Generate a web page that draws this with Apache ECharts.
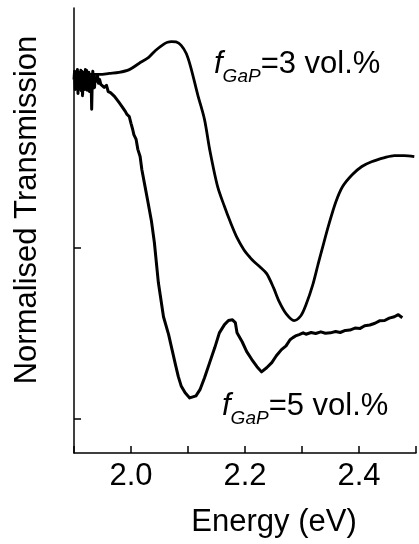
<!DOCTYPE html>
<html>
<head>
<meta charset="utf-8">
<script src="https://cdn.jsdelivr.net/npm/echarts@6/dist/echarts.min.js"></script>
<style>
  html, body { margin: 0; padding: 0; background: #fff; }
  #chart { width: 419px; height: 544px; }
</style>
</head>
<body>
<div id="chart"></div>
<script>
// f_GaP = 3 vol.%
var energy3 = [1.902, 1.919, 1.945, 1.962, 1.979, 1.997, 2.014, 2.031, 2.043, 2.057, 2.064, 2.071, 2.079, 2.088, 2.097,
    2.105, 2.117, 2.129, 2.138, 2.152, 2.164, 2.174, 2.186, 2.198, 2.209, 2.216, 2.226, 2.238, 2.250, 2.260,
    2.272, 2.286, 2.298, 2.307, 2.319, 2.328, 2.336, 2.347, 2.359, 2.371, 2.388, 2.405, 2.422, 2.445, 2.462,
    2.479, 2.497];
var trans3 = [1.003, 1.006, 1.006, 1.009, 1.012, 1.020, 1.038, 1.056, 1.076, 1.094, 1.100, 1.102, 1.101, 1.091, 1.067,
    1.026, 0.947, 0.874, 0.787, 0.678, 0.620, 0.576, 0.529, 0.494, 0.471, 0.459, 0.444, 0.424, 0.383, 0.342,
    0.307, 0.287, 0.301, 0.333, 0.392, 0.450, 0.500, 0.567, 0.632, 0.678, 0.713, 0.737, 0.751, 0.763, 0.769,
    0.769, 0.766];

// f_GaP = 5 vol.%
var energy5 = [1.900, 1.901, 1.902, 1.903, 1.904, 1.905, 1.906, 1.907, 1.908, 1.909, 1.910, 1.911, 1.912, 1.913,
    1.914, 1.915, 1.916, 1.917, 1.918, 1.919, 1.920, 1.921, 1.922, 1.923, 1.924, 1.925, 1.926, 1.927, 1.928,
    1.929, 1.930, 1.931, 1.932, 1.933, 1.934, 1.935, 1.936, 1.937, 1.938, 1.940, 1.941, 1.943, 1.945, 1.947,
    1.950, 1.953, 1.957, 1.960, 1.964, 1.967, 1.971, 1.974, 1.979, 1.983, 1.986, 1.990, 1.993, 1.997, 2.000,
    2.003, 2.005, 2.009, 2.012, 2.016, 2.019, 2.024, 2.029, 2.036, 2.041, 2.048, 2.057, 2.066, 2.072, 2.078,
    2.083, 2.088, 2.095, 2.103, 2.114, 2.121, 2.129, 2.138, 2.147, 2.155, 2.164, 2.171, 2.178, 2.183, 2.186,
    2.195, 2.203, 2.212, 2.221, 2.229, 2.238, 2.247, 2.255, 2.264, 2.272, 2.279, 2.284, 2.290, 2.295, 2.302,
    2.307, 2.316, 2.324, 2.333, 2.341, 2.350, 2.359, 2.367, 2.376, 2.384, 2.393, 2.402, 2.410, 2.419, 2.428,
    2.436, 2.445, 2.453, 2.462, 2.469, 2.476, 2.479];
var trans5 = [0.991, 1.015, 0.962, 1.009, 0.968, 0.997, 1.020, 0.950, 1.012, 0.962, 1.003, 0.975, 1.018, 0.958,
    1.015, 0.944, 1.006, 0.985, 1.012, 0.962, 1.020, 0.974, 1.018, 0.960, 1.003, 0.991, 1.012, 0.956, 1.000,
    0.978, 0.997, 0.904, 0.985, 1.015, 0.966, 1.003, 0.968, 0.994, 0.985, 0.994, 1.006, 0.980, 0.991, 0.977,
    0.982, 0.968, 0.974, 0.956, 0.953, 0.956, 0.942, 0.939, 0.924, 0.915, 0.918, 0.898, 0.889, 0.883, 0.863,
    0.845, 0.830, 0.816, 0.787, 0.766, 0.728, 0.684, 0.640, 0.576, 0.515, 0.398, 0.298, 0.246, 0.202, 0.158,
    0.123, 0.096, 0.076, 0.061, 0.067, 0.085, 0.120, 0.164, 0.208, 0.251, 0.275, 0.287, 0.289, 0.281, 0.251,
    0.225, 0.196, 0.173, 0.152, 0.137, 0.149, 0.164, 0.184, 0.202, 0.213, 0.231, 0.237, 0.243, 0.246, 0.251,
    0.247, 0.252, 0.249, 0.254, 0.250, 0.251, 0.255, 0.252, 0.258, 0.259, 0.265, 0.264, 0.272, 0.274, 0.279,
    0.286, 0.287, 0.294, 0.298, 0.304, 0.295];

var yTicks = [0, 0.5, 1.0];
var xLabels = ['2.0', '2.2', '2.4'];

var FONT = 'Liberation Sans, Arial, Helvetica, sans-serif';

function pairs(xs, ys) {
    var out = [];
    for (var i = 0; i < xs.length; i++) out.push([xs[i], ys[i]]);
    return out;
}

var chart = echarts.init(document.getElementById('chart'), null, { renderer: 'canvas' });

// f_GaP label, subscript via rich text
function gapLabel(txt, x, y) {
    return {
        type: 'text', x: x, y: y,
        style: {
            text: '{f|f}{s|GaP}{t|' + txt + '}',
            textAlign: 'left', textVerticalAlign: 'top',
            rich: {
                f: { fontSize: 31, fontStyle: 'italic', fontFamily: FONT, lineHeight: 31, verticalAlign: 'top', fill: '#000' },
                s: { fontSize: 19, fontStyle: 'italic', fontFamily: FONT, lineHeight: 19, padding: [24, 0, 0, 0], fill: '#000' },
                t: { fontSize: 31, fontFamily: FONT, lineHeight: 31, verticalAlign: 'top', fill: '#000' }
            }
        }
    };
}

var option = {
    animation: false,
    backgroundColor: '#fff',
    grid: { left: 74, width: 349, top: 8, height: 445, containLabel: false },
    xAxis: {
        type: 'value', min: 1.9, max: 2.5, interval: 0.1,
        axisLine: { show: true, onZero: false, lineStyle: { color: '#000', width: 1.5 } },
        axisTick: { show: true, inside: true, length: 7, lineStyle: { color: '#000', width: 1.5 } },
        splitLine: { show: false },
        axisLabel: {
            margin: 8, color: '#000', fontSize: 31, fontFamily: FONT,
            formatter: function (v) {
                var s = v.toFixed(1);
                return xLabels.indexOf(s) >= 0 ? s : '';
            }
        }
    },
    yAxis: {
        type: 'value', min: -0.1, max: 1.2,
        axisLine: { show: true, onZero: false, lineStyle: { color: '#000', width: 1.5 } },
        axisTick: { show: true, inside: true, length: 7, customValues: yTicks, lineStyle: { color: '#000', width: 1.5 } },
        axisLabel: { show: false },
        splitLine: { show: false }
    },
    graphic: [
        {
            type: 'text', x: 27, y: 210, rotation: Math.PI / 2,
            style: { text: 'Normalised Transmission', fontSize: 31, fontFamily: FONT, fill: '#000', textAlign: 'center', textVerticalAlign: 'middle' }
        },
        {
            type: 'text', x: 274, y: 522,
            style: { text: 'Energy (eV)', fontSize: 31, fontFamily: FONT, fill: '#000', textAlign: 'center', textVerticalAlign: 'middle' }
        },
        gapLabel('=3 vol.%', 214, 49),
        gapLabel('=5 vol.%', 222, 391)
    ],
    series: [
        {
            name: '3 vol.%', type: 'line', data: pairs(energy3, trans3),
            showSymbol: false, smooth: 0.3,
            lineStyle: { color: '#000', width: 2.8 }
        },
        {
            name: '5 vol.%', type: 'line', data: pairs(energy5, trans5),
            showSymbol: false,
            lineStyle: { color: '#000', width: 3, join: 'round' }
        }
    ]
};

chart.setOption(option);
</script>
</body>
</html>
